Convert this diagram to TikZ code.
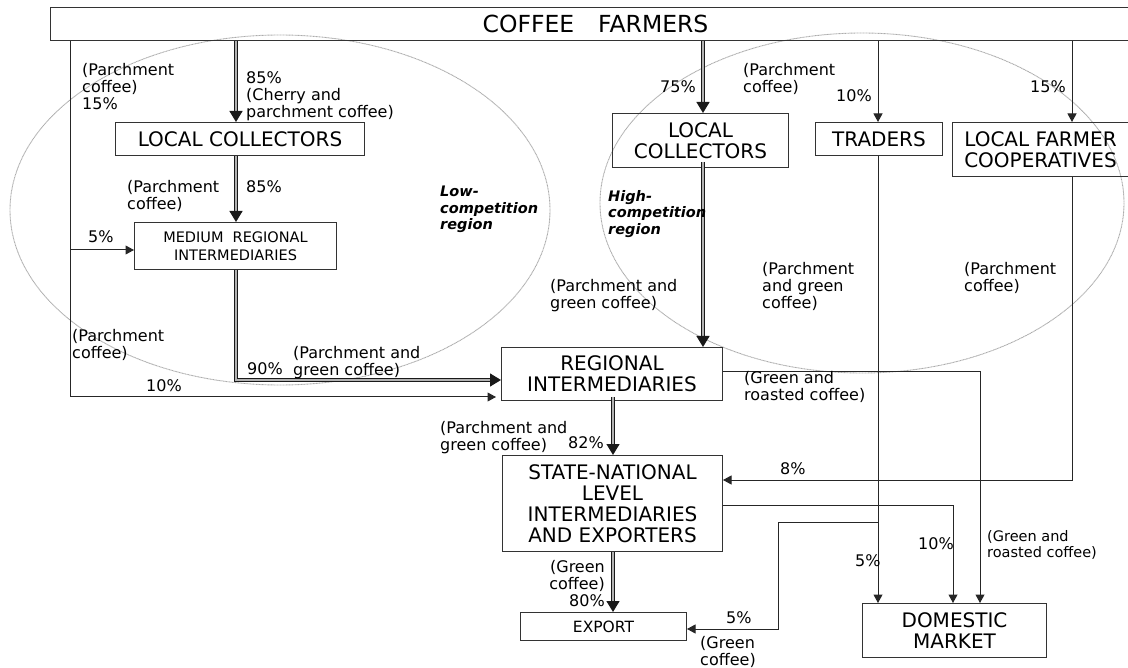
\documentclass[tikz,border=0pt]{standalone}
\usepackage{fontspec}
\setmainfont{DejaVu Sans}
\usetikzlibrary{arrows.meta}
\begin{document}
\begin{tikzpicture}[x=1pt,y=-1pt,
  box/.style={draw=black!80, line width=1pt, inner sep=0pt, anchor=north west,
    font=\fontsize{20}{21}\selectfont, align=center},
  lbl/.style={inner sep=0pt, anchor=north west, font=\fontsize{16}{17}\selectfont, align=left},
  rgn/.style={inner sep=0pt, anchor=north west, font=\fontsize{14.5}{16.5}\selectfont\bfseries\itshape, align=left},
  flow/.style={draw=black!85, line width=1pt, -{Triangle[width=9pt,length=8.5pt]}},
  bigflow/.style={draw=black!90, double=gray!60, double distance=1.5pt, line width=1.3pt,
    -{Triangle[width=13pt,length=11pt]}},
  zone/.style={draw=gray!65, line width=0.9pt, dash pattern=on 1pt off 0.5pt},
]
\useasboundingbox (0,0) rectangle (1128,668);

% regions
\draw[zone] (280,210) ellipse [x radius=270, y radius=175];
\draw[zone] (862,203) ellipse [x radius=262, y radius=170];

% column / row helpers
\coordinate (c0) at (70,0);
\coordinate (c1) at (236,0);
\coordinate (c2) at (703,0);
\coordinate (c3) at (878,0);
\coordinate (c4) at (1072,0);
\coordinate (c5) at (980,0);
\coordinate (c6) at (953,0);
\coordinate (c7) at (778,0);
\coordinate (c8) at (613,0);
\coordinate (r1) at (0,380);
\coordinate (r2) at (0,397);
\coordinate (r3) at (0,250);
\coordinate (r4) at (0,480);
\coordinate (r5) at (0,372);
\coordinate (r6) at (0,505);
\coordinate (r7) at (0,522);
\coordinate (r8) at (0,629);

% boxes
\node[box, minimum width=1082, minimum height=33, font=\fontsize{23.5}{24}\selectfont]
  (farmers) at (50,7) {\hspace*{8pt}COFFEE\hspace{24pt}FARMERS};
\node[box, minimum width=249, minimum height=33] (lc1) at (115,122) {LOCAL COLLECTORS};
\node[box, minimum width=202, minimum height=47, font=\fontsize{14.5}{18}\selectfont]
  (med) at (134,222) {MEDIUM\ \ REGIONAL\\INTERMEDIARIES};
\node[box, minimum width=176, minimum height=54] (lc2) at (612,113) {LOCAL\\COLLECTORS};
\node[box, minimum width=127, minimum height=33] (traders) at (815,122) {TRADERS};
\node[box, minimum width=176, minimum height=54] (coop) at (952,122) {LOCAL FARMER\\COOPERATIVES};
\node[box, minimum width=221, minimum height=53] (reg) at (501,347) {REGIONAL\\INTERMEDIARIES};
\node[box, minimum width=220, minimum height=96] (state) at (502,455)
  {STATE-NATIONAL\\LEVEL\\INTERMEDIARIES\\AND EXPORTERS};
\node[box, minimum width=166, minimum height=28, font=\fontsize{15.5}{17}\selectfont]
  (export) at (520,612) {EXPORT};
\node[box, minimum width=184, minimum height=54] (domestic) at (862,603) {DOMESTIC\\MARKET};

% heavy flows
\draw[bigflow] (farmers.south -| c1) -- (lc1.north -| c1);
\draw[bigflow] (lc1.south -| c1) -- (med.north -| c1);
\draw[bigflow] (med.south -| c1) |- (reg.west |- r1);
\draw[bigflow] (farmers.south -| c2) -- (lc2.north -| c2);
\draw[bigflow] ([yshift=6pt]lc2.south -| c2) -- (reg.north -| c2);
\draw[bigflow] ([yshift=4pt]reg.south -| c8) -- (state.north -| c8);
\draw[bigflow] (state.south -| c8) -- (export.north -| c8);

% light flows
\draw[flow] (farmers.south -| c0) |- ([xshift=-5pt]reg.west |- r2);
\draw[flow] (c0 |- r3) -- (med.west |- r3);
\draw[flow] (farmers.south -| c3) -- (traders.north -| c3);
\draw[flow] (farmers.south -| c4) -- (coop.north -| c4);
\draw[flow] (traders.south -| c3) -- (domestic.north -| c3);
\draw[flow] (coop.south -| c4) |- (state.east |- r4);
\draw[flow] (reg.east |- r5) -| (domestic.north -| c5);
\draw[flow] (state.east |- r6) -| (domestic.north -| c6);
\draw[flow] (c3 |- r7) -| (c7 |- r8) -- (export.east |- r8);

% labels
\node[lbl] (l1) at (82,63.5) {(Parchment\\coffee)\\15\%};
\node[lbl] (l2) at (246,71.5) {85\%\\(Cherry and\\parchment coffee)};
\node[lbl] (l3) at (127,180.5) {(Parchment\\coffee)};
\node[lbl] (l4) at (246,180.5) {85\%};
\node[rgn] (l5) at (440,186) {Low-\\competition\\region};
\node[lbl] (l6) at (88,230.5) {5\%};
\node[lbl] (l7) at (72,329.5) {(Parchment\\coffee)};
\node[lbl] (l8) at (247,362.5) {90\%};
\node[lbl] (l9) at (293,346.5) {(Parchment and\\green coffee)};
\node[lbl] (l10) at (146,379.5) {10\%};
\node[lbl] (l11) at (660,80.5) {75\%};
\node[lbl] (l12) at (743,63.5) {(Parchment\\coffee)};
\node[lbl] (l13) at (836,89.5) {10\%};
\node[lbl] (l14) at (1030,80.5) {15\%};
\node[rgn] (l15) at (608,190) {High-\\competition\\region};
\node[lbl] (l16) at (550,279.5) {(Parchment and\\green coffee)};
\node[lbl] (l17) at (762,262.5) {(Parchment\\and green\\coffee)};
\node[lbl] (l18) at (964,262.5) {(Parchment\\coffee)};
\node[lbl] (l19) at (744,371.5) {(Green and\\roasted coffee)};
\node[lbl] (l20) at (440,421.5) {(Parchment and\\green coffee)};
\node[lbl] (l21) at (568,436) {82\%};
\node[lbl] (l22) at (780,462) {8\%};
\node[lbl, font=\fontsize{14.5}{16}\selectfont] (l23) at (987,530) {(Green and\\roasted coffee)};
\node[lbl] (l24) at (918,537.5) {10\%};
\node[lbl] (l25) at (855,554.5) {5\%};
\node[lbl, anchor=north east, align=right] (l26) at (605,560.5) {(Green\\coffee)\\80\%};
\node[lbl] (l27) at (726,611.5) {5\%};
\node[lbl] (l28) at (700,636.5) {(Green\\coffee)};
\end{tikzpicture}
\end{document}
